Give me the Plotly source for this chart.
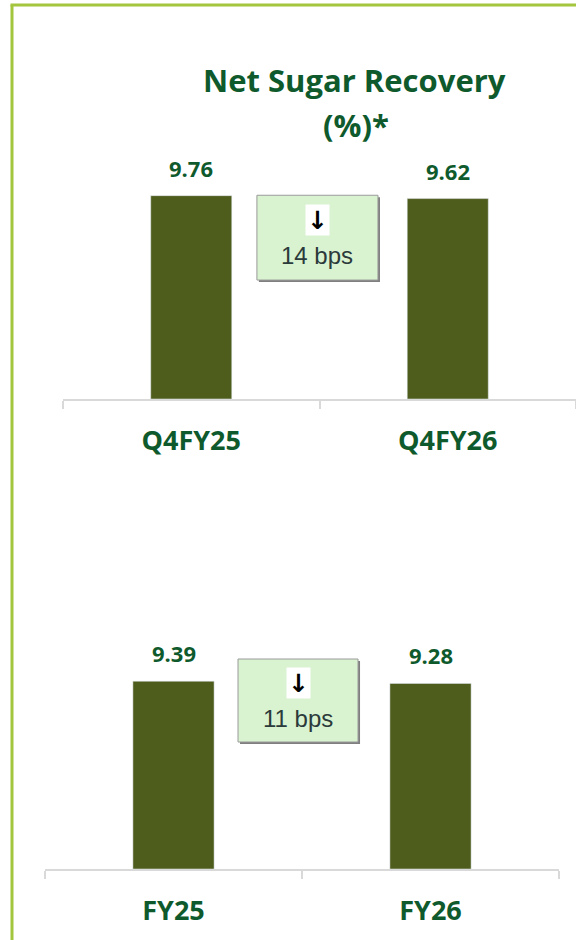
import plotly.graph_objects as go

# ---- data ----
title_line1 = "Net Sugar Recovery"
title_line2 = "(%)*"
q_categories = ["Q4FY25", "Q4FY26"]
q_values = [9.76, 9.62]
fy_categories = ["FY25", "FY26"]
fy_values = [9.39, 9.28]

BAR = "#4f5d1c"
TXT = "#0e5a2c"
BORDER = "#a4c63f"
AXIS = "#d9d9d9"
W, H = 576, 940
FONT = "Open Sans"

fig = go.Figure()
fig.add_trace(go.Bar(x=q_categories, y=q_values, marker_color=BAR, xaxis="x", yaxis="y",
                     hoverinfo="skip"))
fig.add_trace(go.Bar(x=fy_categories, y=fy_values, marker_color=BAR, xaxis="x2", yaxis="y2",
                     hoverinfo="skip"))


def px_y(p):
    return 1 - p / H


xcommon = dict(type="category", range=[-0.5, 1.5], showline=True, linecolor=AXIS, linewidth=2,
               ticks="outside", tickson="boundaries", ticklen=8, tickwidth=2, tickcolor=AXIS,
               tickfont=dict(family=FONT, size=27, color=TXT, weight="bold"),
               showgrid=False, zeroline=False, fixedrange=True, ticklabelstandoff=17)
ycommon = dict(range=[0, 12], visible=False, showgrid=False, zeroline=False, fixedrange=True)

fig.update_layout(
    width=W, height=H, margin=dict(l=0, r=0, t=0, b=0),
    paper_bgcolor="white", plot_bgcolor="white", showlegend=False, bargap=0.684,
    xaxis=dict(domain=[63 / W, 1.0], anchor="y", **xcommon),
    yaxis=dict(domain=[px_y(399), px_y(149)], anchor="x", **ycommon),
    xaxis2=dict(domain=[45 / W, 559 / W], anchor="y2", **xcommon),
    yaxis2=dict(domain=[px_y(869), px_y(629)], anchor="x2", **ycommon),
)

shapes = []
annotations = []

# border
shapes.append(dict(type="line", xref="paper", yref="paper", x0=12 / W, x1=12 / W, y0=0, y1=px_y(5),
                   line=dict(color=BORDER, width=3)))
shapes.append(dict(type="line", xref="paper", yref="paper", x0=12 / W - 1.5 / W, x1=1, y0=px_y(5), y1=px_y(5),
                   line=dict(color=BORDER, width=3)))

# title
annotations.append(dict(xref="paper", yref="paper", x=354 / W, y=px_y(80), text=f"<b>{title_line1}</b>",
                        showarrow=False, xanchor="center", yanchor="middle",
                        font=dict(family=FONT, size=31, color=TXT)))
annotations.append(dict(xref="paper", yref="paper", x=356 / W, y=px_y(125), text=f"<b>{title_line2}</b>",
                        showarrow=False, xanchor="center", yanchor="middle",
                        font=dict(family=FONT, size=31, color=TXT)))


def add_panel(cats, vals, xa, ya, pxu, box, arrow_y, text_y):
    # value labels
    for c, v in zip(cats, vals):
        annotations.append(dict(xref=xa, yref=ya, x=c, y=v, text=f"<b>{v:.2f}</b>", showarrow=False,
                                xanchor="center", yanchor="bottom", yshift=11,
                                font=dict(family=FONT, size=22, color=TXT)))
    bx0, bx1, by0, by1 = box
    pxx = 256.5
    # shadow
    shapes.append(dict(type="rect", xref=xa, yref=ya, x0=bx0 + 2 / pxx, x1=bx1 + 2 / pxx,
                       y0=by0 - 2 / pxu, y1=by1 - 2 / pxu, fillcolor="#7f7f7f", line=dict(width=0),
                       layer="above"))
    shapes.append(dict(type="rect", xref=xa, yref=ya, x0=bx0, x1=bx1, y0=by0, y1=by1,
                       fillcolor="#d9f2d0", line=dict(color="#9a9a9a", width=1), layer="above"))
    delta = round((vals[0] - vals[1]) * 100)
    cx = (bx0 + bx1) / 2
    annotations.append(dict(xref=xa, yref=ya, x=cx, y=arrow_y, text="<b>↓</b>", showarrow=False,
                            bgcolor="white", width=23, height=30, borderpad=0,
                            font=dict(family="DejaVu Sans", size=25, color="black")))
    annotations.append(dict(xref=xa, yref=ya, x=cx, y=text_y, text=f"{delta} bps", showarrow=False,
                            font=dict(family="Liberation Sans", size=24, color="#2b3a3a")))


add_panel(q_categories, q_values, "x", "y", 20.85,
          (0.256, 0.728, 5.71, 9.78), (399 - 220) / 20.85, (399 - 255) / 20.85)
add_panel(fy_categories, fy_values, "x2", "y2", 20.0,
          (0.251, 0.718, 6.35, 10.5), (869 - 683) / 20.0, (869 - 718) / 20.0)

fig.update_layout(shapes=shapes, annotations=annotations)
fig.write_html("out.html", config={"displayModeBar": False},
               post_script="document.body.style.margin='0';document.body.style.overflow='hidden';")
